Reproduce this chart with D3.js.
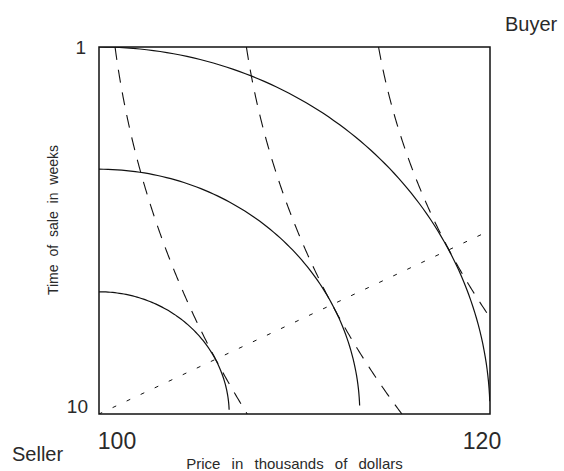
<!DOCTYPE html>
<html>
<head>
<meta charset="utf-8">
<script src="https://cdn.jsdelivr.net/npm/d3@7"></script>
<style>
    body { margin: 0; background: white; }
    text { font-family: 'Liberation Sans', Arial, sans-serif; fill: #2a2a2a; }
</style>
</head>
<body>
<div id="chart"></div>
<script>
// axes
var price_range = [100, 120]
var time_range = [10, 1]
var x_ticks = ['100', '120']
var y_ticks = ['1', '10']

// seller curves: quarter circles round the seller corner, radius as share of the box
var seller_radii = [0.333, 0.667, 1.0]
// buyer curves: arcs of circles sharing one centre (in box units)
var buyer_center = [2.648, 1.324]
var buyer_radii = [2.627, 2.294, 1.960]
// contract line, in price / weeks
var contract_price = [100, 120]
var contract_time = [10, 5.5]

var width = 564, height = 471
var left = 99, right = 490, top_y = 47, bottom = 414

var svg = d3.select('#chart')
    .append('svg')
    .attr('width', width)
    .attr('height', height)

var x = d3.scaleLinear().domain(price_range).range([left, right])
var y = d3.scaleLinear().domain(time_range).range([bottom, top_y])

// box units -> data
var to_price = u => price_range[0] + u * (price_range[1] - price_range[0])
var to_time = v => time_range[0] + v * (time_range[1] - time_range[0])

var line = d3.line()
    .x(d => x(to_price(d[0])))
    .y(d => y(to_time(d[1])))

svg.append('clipPath')
    .attr('id', 'box')
    .append('rect')
    .attr('x', left)
    .attr('y', top_y)
    .attr('width', right - left)
    .attr('height', bottom - top_y)

var plot = svg.append('g').attr('clip-path', 'url(#box)')

// solid seller arcs
seller_radii.forEach(r => {
    var pts = d3.range(2, 90.5, 1).map(a => {
        var t = a * Math.PI / 180
        return [r * Math.cos(t), r * Math.sin(t)]
    })
    plot.append('path')
        .attr('d', line(pts))
        .attr('fill', 'none')
        .attr('stroke', '#111')
        .attr('stroke-width', 1.2)
})

// dashed buyer arcs
buyer_radii.forEach(R => {
    var pts = []
    d3.range(0, 1.0001, 0.005).forEach(v => {
        var dv = v - buyer_center[1]
        var u = buyer_center[0] - Math.sqrt(R * R - dv * dv)
        if (u <= 1.02) pts.push([u, v])
    })
    pts.reverse()
    plot.append('path')
        .attr('d', line(pts))
        .attr('fill', 'none')
        .attr('stroke', '#111')
        .attr('stroke-width', 1.1)
        .attr('stroke-dasharray', '13,10')
})

// dotted contract line
plot.append('line')
    .attr('x1', x(contract_price[0]))
    .attr('y1', y(contract_time[0]))
    .attr('x2', x(contract_price[1]))
    .attr('y2', y(contract_time[1]))
    .attr('stroke', '#111')
    .attr('stroke-width', 1)
    .attr('stroke-dasharray', '4,11.5')
    .attr('stroke-dashoffset', -15)

// frame
svg.append('rect')
    .attr('x', left)
    .attr('y', top_y)
    .attr('width', right - left)
    .attr('height', bottom - top_y)
    .attr('fill', 'none')
    .attr('stroke', '#111')
    .attr('stroke-width', 1.5)

// tick labels
svg.append('text').text(y_ticks[0])
    .attr('x', left - 13).attr('y', y(1) + 7)
    .attr('text-anchor', 'end').attr('font-size', 19)
svg.append('text').text(y_ticks[1])
    .attr('x', left - 11).attr('y', y(10) - 1)
    .attr('text-anchor', 'end').attr('font-size', 19)
svg.append('text').text(x_ticks[0])
    .attr('x', x(100) + 18).attr('y', bottom + 35)
    .attr('text-anchor', 'middle').attr('font-size', 23)
svg.append('text').text(x_ticks[1])
    .attr('x', x(120) - 8).attr('y', bottom + 35)
    .attr('text-anchor', 'middle').attr('font-size', 23)

// corner names
svg.append('text').text('Buyer')
    .attr('x', 505).attr('y', 31).attr('font-size', 20)
svg.append('text').text('Seller')
    .attr('x', 12).attr('y', 461).attr('font-size', 20)

// axis titles
svg.append('text').text('Price in thousands of dollars')
    .attr('x', (left + right) / 2).attr('y', 469)
    .attr('text-anchor', 'middle').attr('font-size', 15)
    .attr('word-spacing', 7)
svg.append('text').text('Time of sale in weeks')
    .attr('transform', 'translate(58,220) rotate(-90)')
    .attr('text-anchor', 'middle').attr('font-size', 14)
    .attr('word-spacing', 4)
</script>
</body>
</html>
